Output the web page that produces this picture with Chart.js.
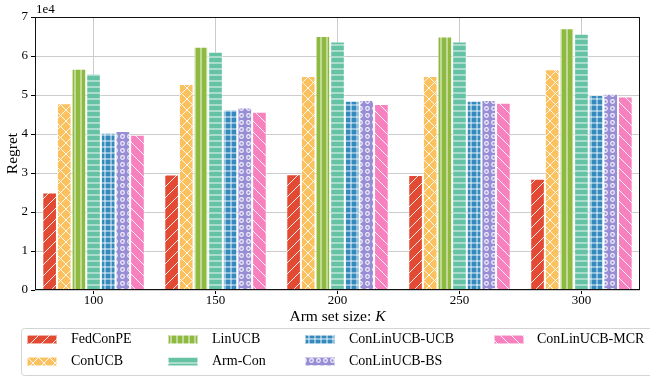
<!DOCTYPE html>
<html>
<head>
<meta charset="utf-8">
<script src="https://cdn.jsdelivr.net/npm/chart.js@4.4.1/dist/chart.umd.min.js"></script>
<style>
  html, body { margin: 0; padding: 0; background: #fff; }
  #wrap { width: 650px; height: 377px; position: relative; }
</style>
</head>
<body>
<div id="wrap"><canvas id="c" width="650" height="377"></canvas></div>
<script>
// ---- data ----
const categories = [100, 150, 200, 250, 300];
const seriesNames = ['FedConPE', 'ConUCB', 'LinUCB', 'Arm-Con', 'ConLinUCB-UCB', 'ConLinUCB-BS', 'ConLinUCB-MCR'];
const fedConPE   = [25000, 29600, 29700, 29500, 28500];
const conUCB     = [47900, 52800, 54900, 54900, 56600];
const linUCB     = [56700, 62400, 65100, 65000, 67100];
const armCon     = [55500, 61100, 63700, 63700, 65700];
const conLinUCB_UCB = [40300, 46300, 48500, 48500, 50000];
const conLinUCB_BS  = [40800, 46800, 48700, 48700, 50300];
const conLinUCB_MCR = [39800, 45700, 47700, 48000, 49600];
const yTickValues = [0, 1, 2, 3, 4, 5, 6, 7];
const yTickScale = 10000;

const seriesValues = [fedConPE, conUCB, linUCB, armCon, conLinUCB_UCB, conLinUCB_BS, conLinUCB_MCR];
const colors = ['#E24A33', '#FBC15E', '#8EBA42', '#66C2A5', '#348ABD', '#988ED5', '#F781BF'];
const hatches = ['/', 'x', '|', '-', '+', 'o', '\\'];

const FONT = '"Liberation Serif", "DejaVu Serif", serif';

function makePattern(color, hatch) {
  const s = (hatch === '/' || hatch === '\\' || hatch === 'x') ? 11 : (hatch === 'o' ? 7 : 6);
  const c = document.createElement('canvas');
  c.width = s; c.height = s;
  const g = c.getContext('2d');
  g.fillStyle = color;
  g.fillRect(0, 0, s, s);
  g.strokeStyle = 'rgba(255,255,255,0.9)';
  g.lineWidth = 1;
  g.beginPath();
  if (hatch === '/' || hatch === 'x') {
    g.moveTo(-1, s + 1); g.lineTo(s + 1, -1);
    g.moveTo(-s - 1, s + 1); g.lineTo(1, -1);
    g.moveTo(s - 1, s + 1); g.lineTo(2 * s + 1, -1);
  }
  if (hatch === '\\' || hatch === 'x') {
    g.moveTo(-1, -1); g.lineTo(s + 1, s + 1);
    g.moveTo(-s - 1, -1); g.lineTo(1, s + 1);
    g.moveTo(s - 1, -1); g.lineTo(2 * s + 1, s + 1);
  }
  if (hatch === '|' || hatch === '+') {
    g.moveTo(s / 2, 0); g.lineTo(s / 2, s);
  }
  if (hatch === '-' || hatch === '+') {
    g.moveTo(0, s / 2); g.lineTo(s, s / 2);
  }
  g.stroke();
  if (hatch === 'o') {
    g.beginPath();
    g.lineWidth = 1.2;
    g.arc(s / 2, s / 2, 1.8, 0, Math.PI * 2);
    g.stroke();
  }
  return g.createPattern(c, 'repeat');
}

const ctx = document.getElementById('c').getContext('2d');
const patterns = colors.map((col, i) => makePattern(col, hatches[i]));

const datasets = seriesNames.map((name, i) => ({
  label: name,
  data: categories.map((k, j) => ({ x: k, y: seriesValues[i][j] })),
  backgroundColor: patterns[i],
  borderColor: 'rgba(255,255,255,0.55)',
  borderWidth: 1,
  categoryPercentage: 0.84,
  barPercentage: 1.0
}));

const decorPlugin = {
  id: 'decor',
  afterDatasetsDraw(chart) {
    const c = chart.ctx;
    const a = chart.chartArea;
    c.save();
    // spines
    c.strokeStyle = '#111';
    c.lineWidth = 1;
    c.strokeRect(Math.round(a.left) + 0.5, Math.round(a.top) + 0.5,
                 Math.round(a.right - a.left) - 1, Math.round(a.bottom - a.top) - 1);
    c.fillStyle = '#000';
    // offset text
    c.font = '13px ' + FONT;
    c.textAlign = 'left';
    c.textBaseline = 'alphabetic';
    c.fillText('1e4', a.left + 1, a.top - 4);
    // x tick labels
    const xs = chart.scales.x;
    c.font = '13px ' + FONT;
    c.textAlign = 'center';
    c.textBaseline = 'middle';
    categories.forEach(k => {
      c.fillText(String(k), xs.getPixelForValue(k), a.bottom + 11);
    });
    // x title
    const t1 = 'Arm set size: ';
    c.font = '15.5px ' + FONT;
    const w1 = c.measureText(t1).width;
    c.font = 'italic 15.5px ' + FONT;
    const w2 = c.measureText('K').width;
    const cx = (a.left + a.right) / 2;
    const x0 = cx - (w1 + w2) / 2;
    c.textAlign = 'left';
    c.textBaseline = 'middle';
    c.font = '15.5px ' + FONT;
    c.fillText(t1, x0, 317);
    c.font = 'italic 15.5px ' + FONT;
    c.fillText('K', x0 + w1, 317);
    // y title
    c.save();
    c.translate(13, (a.top + a.bottom) / 2);
    c.rotate(-Math.PI / 2);
    c.textAlign = 'center';
    c.font = '15.5px ' + FONT;
    c.fillText('Regret', 0, 0);
    c.restore();
    // legend
    c.beginPath();
    if (c.roundRect) c.roundRect(21.5, 328.5, 640, 47, 3); else c.rect(21.5, 328.5, 640, 47);
    c.fillStyle = 'rgba(255,255,255,0.9)';
    c.fill();
    c.strokeStyle = '#d4d4d4';
    c.lineWidth = 1;
    c.stroke();
    const swX = [27, 168, 305, 494];
    const txX = [71, 212, 349, 537];
    const rowY = [335, 357];
    c.font = '14px ' + FONT;
    c.textAlign = 'left';
    c.textBaseline = 'middle';
    seriesNames.forEach((name, i) => {
      const col = Math.floor(i / 2), row = i % 2;
      c.fillStyle = patterns[i];
      c.fillRect(swX[col], rowY[row], 30, 9);
      c.strokeStyle = 'rgba(255,255,255,0.55)';
      c.strokeRect(swX[col] + 0.5, rowY[row] + 0.5, 29, 8);
      c.fillStyle = '#000';
      c.fillText(name, txX[col], rowY[row] + 4.5);
    });
    c.restore();
  }
};

new Chart(ctx, {
  type: 'bar',
  data: { datasets },
  options: {
    responsive: false,
    animation: false,
    events: [],
    layout: { padding: { top: 17, right: 10, left: 0, bottom: 0 } },
    plugins: { legend: { display: false }, tooltip: { enabled: false }, title: { display: false } },
    scales: {
      x: {
        type: 'linear',
        min: 76,
        max: 324,
        offset: false,
        afterFit(scale) { scale.height = 87; },
        afterBuildTicks(scale) { scale.ticks = categories.map(v => ({ value: v })); },
        grid: { offset: false, color: '#cccccc', lineWidth: 1, tickColor: '#000', tickLength: 4, drawTicks: true },
        border: { display: false },
        ticks: { display: false }
      },
      y: {
        min: 0,
        max: yTickValues[yTickValues.length - 1] * yTickScale,
        afterFit(scale) { scale.width = 35; },
        afterBuildTicks(scale) { scale.ticks = yTickValues.map(v => ({ value: v * yTickScale })); },
        grid: { color: '#cccccc', lineWidth: 1, tickColor: '#000', tickLength: 4, drawTicks: true },
        border: { display: false },
        ticks: {
          padding: 3,
          color: '#000',
          font: { family: FONT, size: 13 },
          callback: (v) => String(v / yTickScale)
        }
      }
    }
  },
  plugins: [decorPlugin]
});
</script>
</body>
</html>
